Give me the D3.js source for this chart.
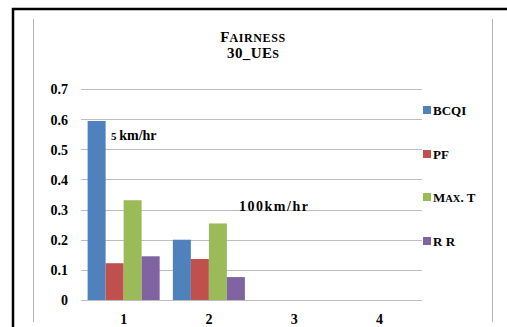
<!DOCTYPE html>
<html>
<head>
<meta charset="utf-8">
<script src="https://cdn.jsdelivr.net/npm/d3@7"></script>
<style>
  html, body { margin: 0; padding: 0; background: #fff; }
  svg { display: block; }
  text { font-family: "Liberation Serif", "Times New Roman", serif; font-weight: bold; fill: #000; }
</style>
</head>
<body>
<svg id="chart" width="507" height="327"></svg>
<script>
// Fairness index per scheduler, 30 UEs
const categories = ["1", "2", "3", "4"];
const seriesNames = ["BCQI", "PF", "Max. T", "R R"];
const bcqi = [0.594, 0.200, 0, 0];
const pf   = [0.122, 0.136, 0, 0];
const maxT = [0.331, 0.254, 0, 0];
const rr   = [0.145, 0.076, 0, 0];
const yTicks = [0, 0.1, 0.2, 0.3, 0.4, 0.5, 0.6, 0.7];
const colors = ["#4f81bd", "#c0504d", "#9bbb59", "#8064a2"];

const seriesValues = [bcqi, pf, maxT, rr];

const svg = d3.select("#chart");
const W = 507, H = 327;

// outer black frame (top and left)
svg.append("rect").attr("x", 0).attr("y", 0).attr("width", W).attr("height", H).attr("fill", "#fff");
svg.append("line").attr("x1", 12).attr("x2", W).attr("y1", 9).attr("y2", 9)
  .attr("stroke", "#000").attr("stroke-width", 2.5);
svg.append("line").attr("x1", 13).attr("x2", 13).attr("y1", 8).attr("y2", H)
  .attr("stroke", "#000").attr("stroke-width", 2.5);

// chart area border (gray)
[33.5, 492.5].forEach(x => {
  svg.append("line").attr("x1", x).attr("x2", x).attr("y1", 19).attr("y2", 322)
    .attr("stroke", "#b4b4b4").attr("stroke-width", 1);
});

const plotLeft = 81, plotRight = 422, plotTop = 89, plotBottom = 300;

const x = d3.scaleBand().domain(categories).range([plotLeft, plotRight])
  .paddingInner(0.155).paddingOuter(0.0775);
const xs = d3.scaleBand().domain(seriesNames).range([0, x.bandwidth()]).padding(0);
const y = d3.scaleLinear().domain([0, 0.7]).range([plotBottom, plotTop]);

// gridlines
svg.append("g").selectAll("line").data(yTicks).join("line")
  .attr("x1", plotLeft).attr("x2", plotRight)
  .attr("y1", d => Math.round(y(d)) + 0.5).attr("y2", d => Math.round(y(d)) + 0.5)
  .attr("stroke", "#bdbdbd").attr("stroke-width", 1);

// y axis labels
const yAxis = d3.axisLeft(y).tickValues(yTicks).tickSize(0).tickPadding(0)
  .tickFormat(d => d === 0 ? "0" : d3.format(".1f")(d));
const gy = svg.append("g").attr("transform", `translate(${plotLeft - 13},0)`).call(yAxis);
gy.select(".domain").remove();
gy.selectAll("text").attr("font-size", 14).attr("dy", "0.35em")
  .style("font-family", "'Liberation Serif', serif").style("font-weight", "bold").attr("fill", "#000");

// x axis labels
const xAxis = d3.axisBottom(x).tickSize(0).tickPadding(0);
const gx = svg.append("g").attr("transform", `translate(0,${plotBottom})`).call(xAxis);
gx.select(".domain").remove();
gx.selectAll("text").attr("font-size", 14).attr("dy", null).attr("y", 24)
  .style("font-family", "'Liberation Serif', serif").style("font-weight", "bold").attr("fill", "#000");

// bars
const rows = categories.map((c, i) => ({
  cat: c,
  vals: seriesNames.map((s, j) => ({ name: s, value: seriesValues[j][i], color: colors[j] }))
}));
svg.append("g").selectAll("g").data(rows).join("g")
  .attr("transform", d => `translate(${x(d.cat)},0)`)
  .selectAll("rect").data(d => d.vals.filter(v => v.value > 0)).join("rect")
  .attr("x", d => xs(d.name)).attr("width", xs.bandwidth())
  .attr("y", d => y(d.value)).attr("height", d => y(0) - y(d.value))
  .attr("fill", d => d.color);

// title (small caps)
const title = svg.append("text").attr("x", 253).attr("y", 42).attr("text-anchor", "middle");
title.append("tspan").attr("font-size", 15).text("F");
title.append("tspan").attr("font-size", 12).attr("letter-spacing", 0.6).text("AIRNESS");
const title2 = svg.append("text").attr("x", 253).attr("y", 58).attr("text-anchor", "middle");
title2.append("tspan").attr("font-size", 15).attr("letter-spacing", 0.4).text("30_UE");
title2.append("tspan").attr("font-size", 12).text("S");

// legend
const legendY = [110, 154, 197, 241];
const lg = svg.append("g").selectAll("g").data(seriesNames).join("g")
  .attr("transform", (d, i) => `translate(423,${legendY[i]})`);
lg.append("rect").attr("x", 0).attr("y", -4).attr("width", 8).attr("height", 8)
  .attr("fill", (d, i) => colors[i]);
lg.each(function (d) {
  const t = d3.select(this).append("text").attr("x", 10).attr("y", 4.5).attr("font-size", 13);
  if (d === "Max. T") {
    t.append("tspan").text("M");
    t.append("tspan").attr("font-size", 10.5).text("AX");
    t.append("tspan").text(". T");
  } else {
    t.text(d);
  }
});

// speed annotations
const a1 = svg.append("text").attr("x", 111).attr("y", 140).attr("font-size", 14);
a1.append("tspan").attr("font-size", 11).text("5 ");
a1.append("tspan").text("km/hr");
svg.append("text").attr("x", 239).attr("y", 211).attr("font-size", 14)
  .attr("textLength", 69).attr("lengthAdjust", "spacing").text("100km/hr");
</script>
</body>
</html>
